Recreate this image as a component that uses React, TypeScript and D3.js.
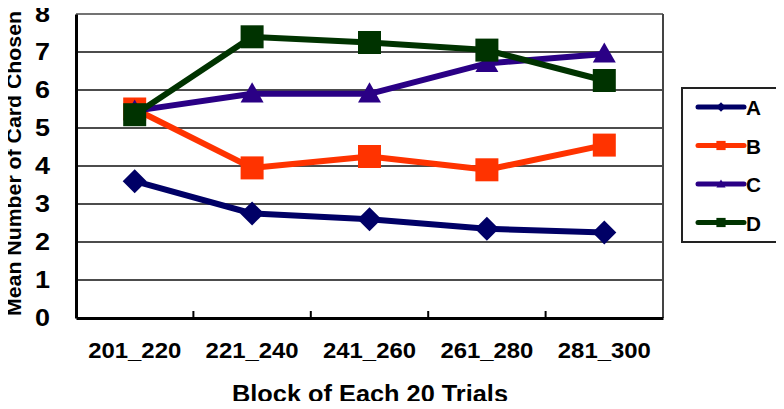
import { useEffect, useRef } from "react"
import * as d3 from "d3"

const categories = ["201_220", "221_240", "241_260", "261_280", "281_300"]
const seriesA = [3.6, 2.75, 2.6, 2.35, 2.25]
const seriesB = [5.5, 3.95, 4.25, 3.9, 4.55]
const seriesC = [5.45, 5.9, 5.9, 6.7, 6.95]
const seriesD = [5.35, 7.4, 7.25, 7.05, 6.25]
const yTicks = [0, 1, 2, 3, 4, 5, 6, 7, 8]

const series = [
  { name: "A", values: seriesA, color: "#000066", marker: "diamond" },
  { name: "B", values: seriesB, color: "#ff3300", marker: "square" },
  { name: "C", values: seriesC, color: "#2a0085", marker: "triangle" },
  { name: "D", values: seriesD, color: "#003300", marker: "square" },
]

export default function App() {
  const ref = useRef<SVGSVGElement>(null)

  useEffect(() => {
    const svg = d3.select(ref.current)
    svg.selectAll("*").remove()

    const margin = { top: 14, right: 121, bottom: 91, left: 76 }
    const W = 784
    const H = 409
    const width = W - margin.left - margin.right
    const height = H - margin.top - margin.bottom
    const font = "'Liberation Sans', Arial, sans-serif"

    const x = d3.scaleBand().domain(categories).range([0, width])
    const y = d3.scaleLinear().domain([0, 8]).range([height, 0])

    const g = svg.append("g").attr("transform", `translate(${margin.left},${margin.top})`)

    // gridlines
    g.selectAll(".grid")
      .data(yTicks.slice(1))
      .enter()
      .append("line")
      .attr("x1", 0)
      .attr("x2", width)
      .attr("y1", (d) => y(d))
      .attr("y2", (d) => y(d))
      .attr("stroke", (d) => (d === 8 ? "#444" : "#111"))
      .attr("stroke-width", 1.5)

    // right frame
    g.append("line")
      .attr("x1", width).attr("x2", width)
      .attr("y1", 0).attr("y2", height)
      .attr("stroke", "#444").attr("stroke-width", 2)

    // y axis
    const yAxis = g.append("g").call(d3.axisLeft(y).tickValues(yTicks).tickSize(0).tickPadding(26))
    yAxis.select(".domain").attr("stroke", "#000").attr("stroke-width", 3)
    yAxis.selectAll("text")
      .attr("textLength", 15)
      .attr("lengthAdjust", "spacingAndGlyphs")
      .style("font-family", font)
      .style("font-size", "23px")
      .style("font-weight", "bold")
      .attr("fill", "#000")

    // x axis
    const xAxis = g.append("g")
      .attr("transform", `translate(0,${height})`)
      .call(d3.axisBottom(x).tickSize(0).tickPadding(24))
    xAxis.select(".domain").attr("stroke", "#000").attr("stroke-width", 3)
    xAxis.selectAll("text")
      .attr("textLength", 93)
      .attr("lengthAdjust", "spacingAndGlyphs")
      .style("font-family", font)
      .style("font-size", "22px")
      .style("font-weight", "bold")
      .attr("fill", "#000")

    // x ticks between categories
    g.selectAll(".xtick")
      .data(categories.slice(1))
      .enter()
      .append("line")
      .attr("x1", (d) => x(d) || 0)
      .attr("x2", (d) => x(d) || 0)
      .attr("y1", height)
      .attr("y2", height - 7)
      .attr("stroke", "#000")
      .attr("stroke-width", 2)

    const cx = (i: number) => (x(categories[i]) || 0) + x.bandwidth() / 2

    const line = d3
      .line<number>()
      .x((_, i) => cx(i))
      .y((d) => y(d))

    const drawMarker = (sel: any, marker: string, color: string, px: number, py: number, scale = 1) => {
      if (marker === "diamond") {
        const r = 12 * scale
        sel.append("path")
          .attr("d", `M${px},${py - r}L${px + r},${py}L${px},${py + r}L${px - r},${py}Z`)
          .attr("fill", color)
      } else if (marker === "square") {
        const s = 23 * scale
        sel.append("rect")
          .attr("x", px - s / 2).attr("y", py - s / 2)
          .attr("width", s).attr("height", s)
          .attr("fill", color)
      } else {
        const r = 11.5 * scale
        sel.append("path")
          .attr("d", `M${px},${py - r}L${px + r},${py + r * 0.75}L${px - r},${py + r * 0.75}Z`)
          .attr("fill", color)
      }
    }

    series.forEach((s) => {
      const sg = g.append("g")
      sg.append("path")
        .datum(s.values)
        .attr("d", line)
        .attr("fill", "none")
        .attr("stroke", s.color)
        .attr("stroke-width", 6)
        .attr("stroke-linejoin", "round")
      s.values.forEach((v, i) => drawMarker(sg, s.marker, s.color, cx(i), y(v)))
    })

    // axis titles
    svg.append("text")
      .attr("transform", "translate(21,316) rotate(-90)")
      .attr("textLength", 305)
      .attr("lengthAdjust", "spacingAndGlyphs")
      .style("font-family", font)
      .style("font-size", "20px")
      .style("font-weight", "bold")
      .text("Mean Number of Card Chosen")

    svg.append("text")
      .attr("x", 232)
      .attr("y", 402)
      .attr("textLength", 276)
      .attr("lengthAdjust", "spacingAndGlyphs")
      .style("font-family", font)
      .style("font-size", "23px")
      .style("font-weight", "bold")
      .text("Block of Each 20 Trials")

    // legend
    const lg = svg.append("g").attr("transform", "translate(682,88)")
    lg.append("rect")
      .attr("width", 97).attr("height", 154)
      .attr("fill", "#fff").attr("stroke", "#222").attr("stroke-width", 2)
    series.forEach((s, i) => {
      const ly = 19 + i * 38.5
      lg.append("line")
        .attr("x1", 16).attr("x2", 62)
        .attr("y1", ly).attr("y2", ly)
        .attr("stroke", s.color).attr("stroke-width", 5)
        .attr("stroke-linecap", "round")
      drawMarker(lg, s.marker, s.color, 39, ly, 0.4)
      lg.append("text")
        .attr("x", 64).attr("y", ly + 8)
        .attr("textLength", 15)
        .attr("lengthAdjust", "spacingAndGlyphs")
        .style("font-family", font)
        .style("font-size", "21px")
        .style("font-weight", "bold")
        .text(s.name)
    })
  }, [])

  return (
    <div style={{ margin: -8, width: 784, height: 409, background: "#fff" }}>
      <svg ref={ref} width={784} height={409} style={{ display: "block" }} />
    </div>
  )
}
